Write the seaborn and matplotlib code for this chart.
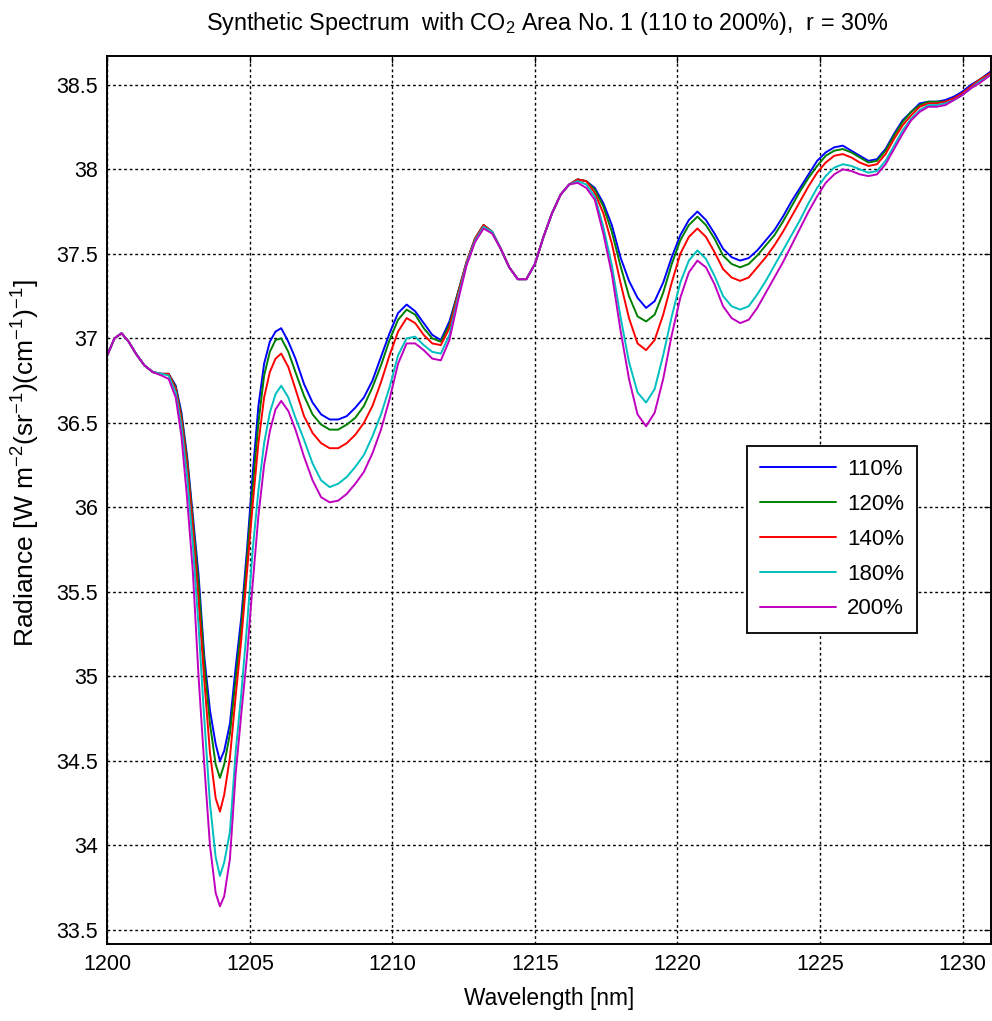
import pandas as pd
import numpy as np
import matplotlib
matplotlib.use("Agg")
import matplotlib.pyplot as plt
import seaborn as sns
from matplotlib.ticker import FuncFormatter

# wavelength grid [nm]
wavelength = [
    1200.0, 1200.25, 1200.5, 1200.75, 1201.0, 1201.3, 1201.6, 1201.9, 1202.15,
    1202.4, 1202.6, 1202.8, 1203.0, 1203.2, 1203.4, 1203.6, 1203.8, 1203.95,
    1204.1, 1204.3, 1204.5, 1204.7, 1204.9, 1205.1, 1205.3, 1205.5, 1205.7, 1205.9, 1206.1,
    1206.35, 1206.6, 1206.9, 1207.2, 1207.5, 1207.8, 1208.1, 1208.4, 1208.7, 1209.0,
    1209.3, 1209.6, 1209.9, 1210.2, 1210.5, 1210.8, 1211.1, 1211.4, 1211.7, 1212.0,
    1212.3, 1212.6, 1212.9, 1213.2, 1213.5, 1213.8, 1214.1, 1214.4, 1214.7, 1215.0,
    1215.3, 1215.6, 1215.9, 1216.2, 1216.5, 1216.8,
    1217.1, 1217.4, 1217.7, 1218.0, 1218.3, 1218.6, 1218.9, 1219.2, 1219.5, 1219.8,
    1220.1, 1220.4, 1220.7,
    1221.0, 1221.3, 1221.6, 1221.9, 1222.2, 1222.5, 1222.8, 1223.1, 1223.4, 1223.7,
    1224.0, 1224.3, 1224.6, 1224.9, 1225.2, 1225.5, 1225.8, 1226.1, 1226.4, 1226.7,
    1227.0, 1227.3, 1227.6, 1227.9, 1228.2, 1228.5, 1228.8, 1229.1, 1229.4, 1229.7,
    1230.0, 1230.3, 1230.6, 1231.0,
]

# radiance for each CO2 scaling
rad_110 = [
    36.90, 37.00, 37.03, 36.98, 36.91, 36.84, 36.80, 36.79, 36.79,
    36.72, 36.56, 36.30, 35.95, 35.60, 35.12, 34.80, 34.60, 34.50,
    34.56, 34.72, 35.05, 35.35, 35.75, 36.20, 36.60, 36.85, 36.98, 37.04, 37.06,
    36.98, 36.88, 36.73, 36.62, 36.55, 36.52, 36.52, 36.54, 36.59, 36.65,
    36.75, 36.89, 37.03, 37.15, 37.20, 37.16, 37.09, 37.02, 36.99, 37.10,
    37.27, 37.45, 37.59, 37.67, 37.63, 37.53, 37.42, 37.35, 37.35, 37.44,
    37.60, 37.74, 37.85, 37.91, 37.94, 37.93,
    37.89, 37.80, 37.67, 37.48, 37.34, 37.24, 37.18, 37.22, 37.33, 37.48,
    37.61, 37.70, 37.75,
    37.70, 37.62, 37.53, 37.48, 37.46, 37.475, 37.52, 37.58, 37.64, 37.72,
    37.81, 37.89, 37.97, 38.05, 38.10, 38.13, 38.14, 38.11, 38.08, 38.05,
    38.06, 38.12, 38.21, 38.29, 38.34, 38.39, 38.40, 38.40, 38.41, 38.43,
    38.46, 38.50, 38.53, 38.58,
]
rad_120 = [
    36.90, 37.00, 37.03, 36.98, 36.91, 36.84, 36.80, 36.79, 36.79,
    36.71, 36.54, 36.28, 35.92, 35.55, 35.08, 34.72, 34.48, 34.40,
    34.48, 34.66, 34.98, 35.30, 35.70, 36.12, 36.50, 36.78, 36.92, 36.99, 37.00,
    36.92, 36.80, 36.66, 36.55, 36.49, 36.46, 36.46, 36.49, 36.53, 36.60,
    36.71, 36.84, 36.99, 37.11, 37.17, 37.14, 37.06, 37.00, 36.98, 37.08,
    37.27, 37.45, 37.59, 37.67, 37.63, 37.53, 37.42, 37.35, 37.35, 37.44,
    37.60, 37.74, 37.85, 37.91, 37.94, 37.93,
    37.88, 37.78, 37.63, 37.43, 37.25, 37.13, 37.10, 37.14, 37.27, 37.44,
    37.58, 37.67, 37.72,
    37.67, 37.59, 37.49, 37.44, 37.42, 37.44, 37.49, 37.55, 37.61, 37.69,
    37.78, 37.87, 37.95, 38.02, 38.08, 38.11, 38.12, 38.10, 38.07, 38.04,
    38.05, 38.11, 38.20, 38.28, 38.34, 38.38, 38.40, 38.40, 38.40, 38.42,
    38.45, 38.49, 38.53, 38.57,
]
rad_140 = [
    36.90, 37.00, 37.03, 36.98, 36.91, 36.84, 36.80, 36.79, 36.79,
    36.70, 36.52, 36.25, 35.88, 35.45, 34.98, 34.55, 34.28, 34.20,
    34.30, 34.52, 34.88, 35.22, 35.62, 36.02, 36.38, 36.65, 36.80, 36.88, 36.91,
    36.83, 36.70, 36.54, 36.44, 36.38, 36.35, 36.35, 36.38, 36.43, 36.50,
    36.60, 36.74, 36.90, 37.04, 37.12, 37.09, 37.02, 36.97, 36.96, 37.06,
    37.26, 37.45, 37.59, 37.67, 37.63, 37.53, 37.42, 37.35, 37.35, 37.44,
    37.60, 37.74, 37.85, 37.91, 37.94, 37.93,
    37.86, 37.74, 37.56, 37.33, 37.12, 36.97, 36.93, 36.99, 37.14, 37.33,
    37.50, 37.60, 37.65,
    37.60, 37.51, 37.41, 37.36, 37.34, 37.36, 37.42, 37.48, 37.55, 37.63,
    37.72, 37.81, 37.90, 37.98, 38.04, 38.08, 38.09, 38.07, 38.04, 38.02,
    38.03, 38.09, 38.18, 38.26, 38.32, 38.37, 38.39, 38.39, 38.40, 38.42,
    38.45, 38.49, 38.53, 38.57,
]
rad_180 = [
    36.90, 37.00, 37.03, 36.98, 36.91, 36.84, 36.80, 36.79, 36.78,
    36.68, 36.48, 36.18, 35.78, 35.30, 34.75, 34.25, 33.93, 33.82,
    33.90, 34.08, 34.55, 34.90, 35.30, 35.75, 36.10, 36.38, 36.56, 36.67, 36.72,
    36.65, 36.53, 36.40, 36.26, 36.16, 36.12, 36.14, 36.18, 36.24, 36.31,
    36.42, 36.55, 36.71, 36.90, 37.00, 37.01, 36.96, 36.92, 36.91, 37.02,
    37.24, 37.44, 37.58, 37.66, 37.63, 37.53, 37.42, 37.35, 37.35, 37.44,
    37.60, 37.74, 37.85, 37.91, 37.93, 37.91,
    37.84, 37.66, 37.43, 37.13, 36.86, 36.68, 36.62, 36.70, 36.90, 37.13,
    37.33, 37.46, 37.52,
    37.47, 37.37, 37.25, 37.19, 37.17, 37.19, 37.26, 37.34, 37.43, 37.52,
    37.61, 37.70, 37.80, 37.89, 37.96, 38.01, 38.03, 38.02, 38.00, 37.98,
    37.99, 38.05, 38.14, 38.23, 38.30, 38.35, 38.38, 38.38, 38.39, 38.41,
    38.44, 38.48, 38.52, 38.56,
]
rad_200 = [
    36.90, 37.00, 37.03, 36.98, 36.91, 36.84, 36.80, 36.78, 36.76,
    36.65, 36.42, 36.05, 35.62, 35.00, 34.48, 34.00, 33.72, 33.64,
    33.70, 33.92, 34.42, 34.78, 35.12, 35.55, 35.95, 36.25, 36.45, 36.58, 36.63,
    36.57, 36.46, 36.30, 36.16, 36.06, 36.03, 36.04, 36.08, 36.14, 36.21,
    36.32, 36.46, 36.64, 36.85, 36.97, 36.97, 36.93, 36.88, 36.87, 36.99,
    37.22, 37.43, 37.57, 37.65, 37.62, 37.53, 37.42, 37.35, 37.35, 37.44,
    37.60, 37.74, 37.85, 37.91, 37.92, 37.89,
    37.82, 37.62, 37.38, 37.05, 36.76, 36.55, 36.48, 36.56, 36.76, 37.02,
    37.24, 37.39, 37.46,
    37.42, 37.32, 37.19, 37.12, 37.09, 37.11, 37.18, 37.27, 37.36, 37.45,
    37.55, 37.65, 37.75, 37.84, 37.92, 37.97, 38.00, 37.99, 37.97, 37.96,
    37.97, 38.03, 38.12, 38.21, 38.29, 38.34, 38.37, 38.37, 38.38, 38.41,
    38.44, 38.48, 38.51, 38.56,
]

series_labels = ["110%", "120%", "140%", "180%", "200%"]
series_values = [rad_110, rad_120, rad_140, rad_180, rad_200]
series_colors = ["#0000ff", "#008000", "#ff0000", "#00bfbf", "#bf00bf"]

x_ticks = [1200, 1205, 1210, 1215, 1220, 1225, 1230]
y_ticks = [33.5, 34, 34.5, 35, 35.5, 36, 36.5, 37, 37.5, 38, 38.5]

# 长表
frames = []
for lab, vals in zip(series_labels, series_values):
    assert len(vals) == len(wavelength), lab
    frames.append(pd.DataFrame({"wavelength": wavelength, "radiance": vals, "series": lab}))
df = pd.concat(frames, ignore_index=True)

sns.set_style("white", rc={"text.color": "black", "axes.labelcolor": "black",
                           "xtick.color": "black", "ytick.color": "black"})
plt.rcParams["font.family"] = ["Liberation Sans", "DejaVu Sans"]
plt.rcParams["mathtext.fontset"] = "custom"
plt.rcParams["mathtext.rm"] = "Liberation Sans"
plt.rcParams["mathtext.it"] = "Liberation Sans:italic"
plt.rcParams["mathtext.default"] = "regular"

fs = 15.5
fig = plt.figure(figsize=(9.92, 10.21), dpi=100)
ax = fig.add_axes([0.1082, 0.0754, 0.8908, 0.8697])

sns.lineplot(data=df, x="wavelength", y="radiance", hue="series",
             hue_order=series_labels, palette=dict(zip(series_labels, series_colors)),
             estimator=None, sort=False, linewidth=1.4, ax=ax)

ax.set_xlim(1200, 1231)
ax.set_ylim(33.417, 38.67)
ax.set_xticks(x_ticks)
ax.set_yticks(y_ticks)
ax.yaxis.set_major_formatter(FuncFormatter(lambda v, p: "%g" % v))

ax.set_axisbelow(True)
ax.grid(True, color="black", linestyle=(0, (2.0, 2.0)), linewidth=1.0)
for sp in ax.spines.values():
    sp.set_color("black")
    sp.set_linewidth(1.4)
ax.tick_params(direction="in", length=5, width=0.9, top=True, right=True,
               labelsize=fs, pad=7, colors="black")

ax.set_xlabel("Wavelength [nm]", fontsize=16.4, color="black")
ax.set_ylabel("Radiance [W m$^{-2}$(sr$^{-1}$)(cm$^{-1}$)$^{-1}$]", fontsize=19,
              color="black")
ax.xaxis.set_label_coords(0.5, -0.048)
ax.yaxis.set_label_coords(-0.074, 0.542)

fig.text(0.5515, 1 - 30 / 1021,
         "Synthetic Spectrum  with CO$_2$ Area No. 1 (110 to 200%),  r = 30%",
         ha="center", va="baseline", fontsize=16.8, color="black")

handles, labels = ax.get_legend_handles_labels()
leg = ax.legend(handles, labels, loc="upper left", bbox_to_anchor=(0.724, 0.561),
                borderaxespad=0, fontsize=16, frameon=True, fancybox=False,
                framealpha=1, edgecolor="black", handlelength=3.4,
                handletextpad=0.5, labelspacing=0.62, borderpad=0.6)
leg.get_frame().set_linewidth(1.3)
for h in leg.get_lines():
    h.set_linewidth(1.4)

fig.savefig("out.png", dpi=100)
